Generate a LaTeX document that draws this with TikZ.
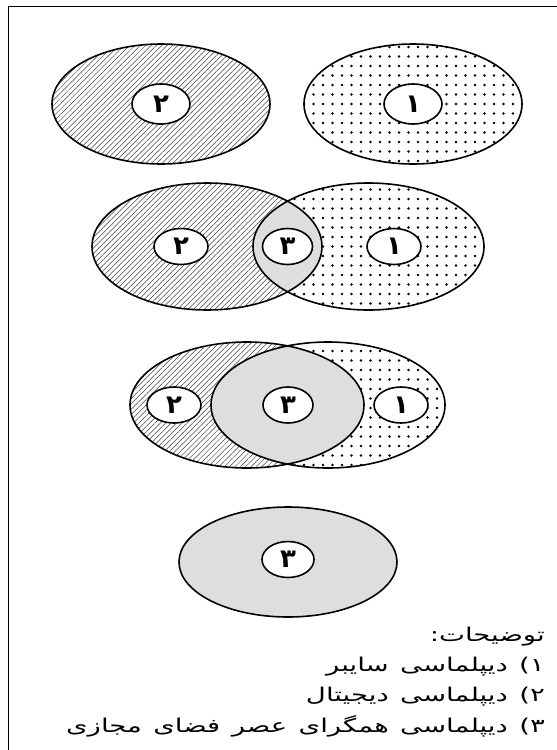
\documentclass[tikz,border=0pt]{standalone}
\usepackage{fontspec}
\usetikzlibrary{shapes.geometric,patterns.meta}
\newfontfamily\persianfont[Script=Arabic]{DejaVu Sans}
\newfontfamily\legendfont[Script=Arabic, FakeStretch=1.45, WordSpace=1.3]{DejaVu Sans}
\TeXXeTstate=1
\definecolor{lensgray}{HTML}{DEDEDE}

\begin{document}
\begin{tikzpicture}[
    x=1pt, y=-1pt,
    venn/.style={ellipse, inner sep=0pt},
    rim/.style={draw, line width=1.6pt},
    hatchfill/.style={pattern={Lines[angle=45, distance=3.8pt, line width=0.5pt]}, pattern color=black!75},
    dotfill/.style={pattern={Dots[distance=9.5pt, radius=1.35pt]}, pattern color=black},
    tag/.style={ellipse, draw, fill=white, line width=1.6pt, minimum width=54pt, minimum height=36pt, inner sep=0pt, font=\persianfont\bfseries\fontsize{26}{26}\selectfont},
    legend/.style={anchor=east, inner sep=0pt, font=\legendfont\fontsize{19}{22}\selectfont},
]
\useasboundingbox (0,0) rectangle (557,750);

% Frame
\draw[line width=1.6pt] (8.5,760) |- (570,6.5);

% Row 1: separate
\node[venn, rim, hatchfill, minimum width=218pt, minimum height=120pt] (digA) at (161,104) {};
\node[venn, rim, dotfill, minimum width=218pt, minimum height=120pt] (cybA) at (413,104) {};

% Row 2: small overlap
\node[venn, hatchfill, minimum width=230pt, minimum height=127pt] (digB) at (207,246.5) {};
\node[venn, dotfill, minimum width=231pt, minimum height=127pt] (cybB) at (368.5,246.5) {};
\begin{scope}
  \clip (digB.center) ellipse [x radius=115, y radius=63.5];
  \fill[lensgray] (cybB.center) ellipse [x radius=115.5, y radius=63.5];
\end{scope}
\draw[rim] (digB.center) ellipse [x radius=115, y radius=63.5];
\draw[rim] (cybB.center) ellipse [x radius=115.5, y radius=63.5];

% Row 3: large overlap
\node[venn, hatchfill, minimum width=234pt, minimum height=126pt] (digC) at (247,405) {};
\node[venn, dotfill, minimum width=234pt, minimum height=126pt] (cybC) at (328,405) {};
\begin{scope}
  \clip (digC.center) ellipse [x radius=117, y radius=63];
  \fill[lensgray] (cybC.center) ellipse [x radius=117, y radius=63];
\end{scope}
\draw[rim] (digC.center) ellipse [x radius=117, y radius=63];
\draw[rim] (cybC.center) ellipse [x radius=117, y radius=63];

% Row 4: converged
\node[venn, rim, fill=lensgray, minimum width=218pt, minimum height=110pt] (convD) at (288,562) {};

% Tags
\node[tag, minimum width=58pt, minimum height=40pt] (tA2) at (digA.center) {۲};
\node[tag, minimum width=58pt, minimum height=40pt] (tA1) at (cybA.center) {۱};
\node[tag] (tB2) at (181,246.5) {۲};
\node[tag, minimum width=50pt] (tB3) at (287.5,246.5) {۳};
\node[tag] (tB1) at (394,246.5) {۱};
\node[tag] (tC2) at (174,405) {۲};
\node[tag, minimum width=50pt] (tC3) at (288,405) {۳};
\node[tag] (tC1) at (401,405) {۱};
\node[tag, minimum width=52pt] (tD3) at (288,559.5) {۳};

% Legend
\node[legend] (title) at (545,637) {\beginR توضیحات:\endR};
\node[legend] (item1) at (545,667) {\beginR ۱) دیپلماسی سایبر\endR};
\node[legend] (item2) at (545,697) {\beginR ۲) دیپلماسی دیجیتال\endR};
\node[legend] (item3) at (545,726) {\beginR ۳) دیپلماسی همگرای عصر فضای مجازی\endR};

\end{tikzpicture}
\end{document}
